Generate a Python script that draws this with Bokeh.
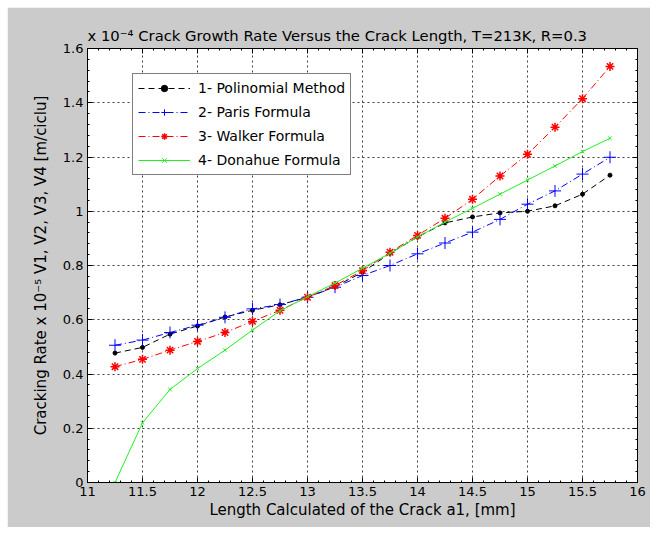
from bokeh.plotting import figure
from bokeh.models import FixedTicker, LinearAxis, Legend, LegendItem, Range1d
from bokeh.embed import file_html
from bokeh.resources import INLINE

# crack length a1 [mm]
crack_length = [11.25, 11.5, 11.75, 12.0, 12.25, 12.5, 12.75, 13.0, 13.25, 13.5,
                13.75, 14.0, 14.25, 14.5, 14.75, 15.0, 15.25, 15.5, 15.75]
# cracking rate (x 1e-4)
polinomial = [0.477, 0.498, 0.547, 0.577, 0.610, 0.635, 0.655, 0.683, 0.722, 0.775,
              0.845, 0.905, 0.957, 0.979, 0.994, 1.000, 1.020, 1.063, 1.133]
paris = [0.506, 0.525, 0.553, 0.580, 0.609, 0.640, 0.656, 0.683, 0.720, 0.763,
         0.800, 0.843, 0.883, 0.923, 0.970, 1.026, 1.075, 1.137, 1.199]
walker = [0.427, 0.454, 0.488, 0.520, 0.553, 0.594, 0.635, 0.683, 0.726, 0.781,
          0.849, 0.911, 0.974, 1.044, 1.130, 1.210, 1.310, 1.415, 1.534]
donahue = [0.000, 0.220, 0.343, 0.420, 0.488, 0.562, 0.633, 0.685, 0.735, 0.790,
           0.845, 0.905, 0.960, 1.011, 1.063, 1.115, 1.167, 1.220, 1.269]

x_ticks = [11, 11.5, 12, 12.5, 13, 13.5, 14, 14.5, 15, 15.5, 16]
x_tick_labels = ["11", "11.5", "12", "12.5", "13", "13.5", "14", "14.5", "15", "15.5", "16"]
y_ticks = [0, 0.2, 0.4, 0.6, 0.8, 1.0, 1.2, 1.4, 1.6]
y_tick_labels = ["0", "0.2", "0.4", "0.6", "0.8", "1", "1.2", "1.4", "1.6"]

FONT = "DejaVu Sans"
FS = "13px"
FS_LABEL = "15px"
GRAY = "#cbcbcb"
GREEN = "#22ee22"

p = figure(width=643, height=520, output_backend="svg", toolbar_location=None,
           x_range=Range1d(11, 16), y_range=Range1d(0, 1.6),
           min_border_left=80, min_border_right=13, min_border_top=41, min_border_bottom=45)
p.margin = (7, 7, 6, 7)
p.border_fill_color = GRAY
p.background_fill_color = "white"
p.outline_line_color = "black"
p.outline_line_width = 1

p.title.text = "x 10\u207b\u2074  Crack Growth Rate Versus the Crack Length, T=213K, R=0.3"
p.title.align = "left"
p.title.offset = 0
p.title.text_font = FONT
p.title.text_font_size = "14.8px"
p.title.text_font_style = "normal"
p.title.text_color = "black"
p.title.standoff = 9

x_minor = [round(11 + 0.1 * i, 2) for i in range(51)]
y_minor = [round(0.04 * i, 2) for i in range(41)]
xt = FixedTicker(ticks=x_ticks, minor_ticks=x_minor)
yt = FixedTicker(ticks=y_ticks, minor_ticks=y_minor)

def style_axis(ax, ticker, labels, show_labels):
    ax.ticker = ticker
    ax.major_label_overrides = {t: l for t, l in zip(ticker.ticks, labels)}
    ax.major_tick_in = 5
    ax.major_tick_out = 0
    ax.minor_tick_in = 2
    ax.minor_tick_out = 0
    ax.axis_line_color = "black"
    ax.major_tick_line_color = "black"
    ax.minor_tick_line_color = "black"
    ax.major_label_text_font = FONT
    ax.major_label_text_font_size = FS
    ax.major_label_text_color = "black"
    ax.major_label_standoff = 4
    ax.axis_label_text_font = FONT
    ax.axis_label_text_font_size = FS_LABEL
    ax.axis_label_text_font_style = "normal"
    ax.axis_label_text_color = "black"
    if not show_labels:
        ax.major_label_text_alpha = 0
        ax.major_label_text_font_size = "0px"
        ax.major_label_standoff = 0

style_axis(p.xaxis[0], xt, x_tick_labels, True)
style_axis(p.yaxis[0], yt, y_tick_labels, True)
p.xaxis[0].axis_label = "Length Calculated of the Crack a1, [mm]"
p.xaxis[0].axis_label_standoff = 2
p.yaxis[0].axis_label = "Cracking Rate x 10\u207b\u2075 V1, V2, V3, V4 [m/ciclu]"
p.yaxis[0].axis_label_standoff = 10

top_ax = LinearAxis()
right_ax = LinearAxis()
style_axis(top_ax, xt, x_tick_labels, False)
style_axis(right_ax, yt, y_tick_labels, False)
p.add_layout(top_ax, "above")
p.add_layout(right_ax, "right")

p.xgrid.ticker = xt
p.ygrid.ticker = yt
for g in (p.xgrid[0], p.ygrid[0]):
    g.grid_line_color = "black"
    g.grid_line_alpha = 0.75
    g.grid_line_dash = "2 3"
    g.grid_line_width = 1

r1l = p.line(crack_length, polinomial, line_color="black", line_dash="6 4", line_width=1)
r1m = p.scatter(crack_length, polinomial, marker="circle", size=4, color="black")
r2l = p.line(crack_length, paris, line_color="blue", line_dash="7 3 1 3", line_width=1)
r2m = p.scatter(crack_length, paris, marker="cross", size=12, line_color="blue", line_width=1)
r3l = p.line(crack_length, walker, line_color="red", line_dash="7 3 1 3", line_width=1)
r3m = p.scatter(crack_length, walker, marker="asterisk", size=9, line_color="red", line_width=1.5)
r4l = p.line(crack_length, donahue, line_color=GREEN, line_width=1)
r4m = p.scatter(crack_length, donahue, marker="x", size=5, line_color=GREEN, line_width=1)

legend = Legend(items=[
    LegendItem(label="1- Polinomial Method", renderers=[r1l, r1m]),
    LegendItem(label="2- Paris Formula", renderers=[r2l, r2m]),
    LegendItem(label="3- Walker Formula", renderers=[r3l, r3m]),
    LegendItem(label="4- Donahue Formula", renderers=[r4l, r4m]),
], location=(45, 307))
legend.border_line_color = "black"
legend.border_line_width = 1.5
legend.background_fill_color = "white"
legend.background_fill_alpha = 1
legend.label_text_font = FONT
legend.label_text_font_size = "14px"
legend.label_text_color = "black"
legend.glyph_width = 52
legend.glyph_height = 16
legend.label_height = 18
legend.spacing = 6
legend.padding = 5
legend.margin = 0
legend.label_standoff = 8
p.add_layout(legend, "center")

open("out.html", "w").write(file_html(p, INLINE))
